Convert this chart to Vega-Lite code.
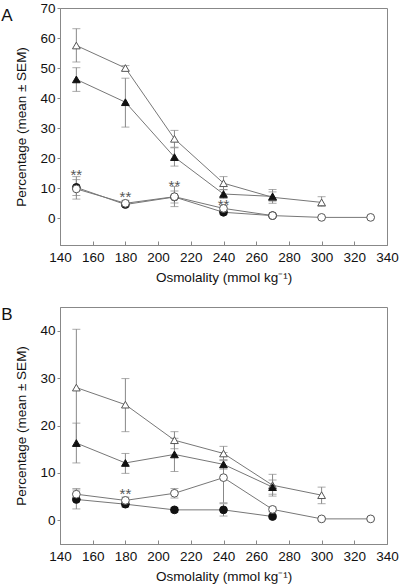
{
  "$schema": "https://vega.github.io/schema/vega-lite/v6.json",
  "padding": {"left": 0, "top": 0, "right": 0, "bottom": 0},
  "spacing": 20,
  "config": {
    "font": "Liberation Sans",
    "view": {"stroke": "#888", "strokeWidth": 1},
    "axis": {
      "grid": false,
      "domainColor": "#888",
      "tickColor": "#888",
      "labelFontSize": 13.5,
      "titleFontSize": 13.5,
      "labelColor": "#111",
      "titleColor": "#111",
      "titleFontWeight": "normal",
      "labelFont": "Liberation Sans",
      "titleFont": "Liberation Sans",
      "labelOverlap": false,
      "labelFlush": false
    },
    "title": {"fontWeight": "normal", "fontSize": 17, "font": "Liberation Sans", "color": "#111"}
  },
  "datasets": {
    "pts": [
      {"p": "A", "s": "oT", "x": 150, "y": 57.5, "lo": 52, "hi": 63.1},
      {"p": "A", "s": "oT", "x": 180, "y": 50, "lo": 49.2, "hi": 50.8},
      {"p": "A", "s": "oT", "x": 210, "y": 26.4, "lo": 23.6, "hi": 29.2},
      {"p": "A", "s": "oT", "x": 240, "y": 11.6, "lo": 9.4, "hi": 13.8},
      {"p": "A", "s": "oT", "x": 270, "y": 6.9, "lo": 4.9, "hi": 9.5},
      {"p": "A", "s": "oT", "x": 300, "y": 5.2, "lo": 3.9, "hi": 7.1},
      {"p": "A", "s": "fT", "x": 150, "y": 46.2, "lo": 42.2, "hi": 50.1},
      {"p": "A", "s": "fT", "x": 180, "y": 38.6, "lo": 30.3, "hi": 46.6},
      {"p": "A", "s": "fT", "x": 210, "y": 20.3, "lo": 17.3, "hi": 23.4},
      {"p": "A", "s": "fT", "x": 240, "y": 8, "lo": 6.5, "hi": 9.5},
      {"p": "A", "s": "fT", "x": 270, "y": 7.2, "lo": 5.7, "hi": 8.7},
      {"p": "A", "s": "fC", "x": 150, "y": 10.2, "lo": 7.5, "hi": 12.8},
      {"p": "A", "s": "fC", "x": 180, "y": 4.5, "lo": 3.8, "hi": 5.2},
      {"p": "A", "s": "fC", "x": 210, "y": 7, "lo": 5, "hi": 9},
      {"p": "A", "s": "fC", "x": 240, "y": 1.9, "lo": 1.2, "hi": 2.6},
      {"p": "A", "s": "fC", "x": 270, "y": 0.8, "lo": 0.5, "hi": 1.1},
      {"p": "A", "s": "oC", "x": 150, "y": 9.7, "lo": 6.3, "hi": 13.8},
      {"p": "A", "s": "oC", "x": 180, "y": 4.9, "lo": 3.9, "hi": 5.9},
      {"p": "A", "s": "oC", "x": 210, "y": 7.1, "lo": 3.8, "hi": 10.5},
      {"p": "A", "s": "oC", "x": 240, "y": 3.2, "lo": 2.2, "hi": 4.2},
      {"p": "A", "s": "oC", "x": 270, "y": 0.8, "lo": 0.4, "hi": 1.2},
      {"p": "A", "s": "oC", "x": 300, "y": 0.2, "lo": 0, "hi": 0.4},
      {"p": "A", "s": "oC", "x": 330, "y": 0.2, "lo": 0, "hi": 0.4},
      {"p": "B", "s": "oT", "x": 150, "y": 28, "lo": 15.7, "hi": 40.3},
      {"p": "B", "s": "oT", "x": 180, "y": 24.4, "lo": 18.7, "hi": 29.9},
      {"p": "B", "s": "oT", "x": 210, "y": 16.9, "lo": 15.1, "hi": 18.7},
      {"p": "B", "s": "oT", "x": 240, "y": 14.1, "lo": 12.6, "hi": 15.6},
      {"p": "B", "s": "oT", "x": 270, "y": 7.4, "lo": 5.1, "hi": 9.7},
      {"p": "B", "s": "oT", "x": 300, "y": 5.3, "lo": 3.5, "hi": 7},
      {"p": "B", "s": "fT", "x": 150, "y": 16.3, "lo": 12.1, "hi": 20.5},
      {"p": "B", "s": "fT", "x": 180, "y": 12.1, "lo": 9.9, "hi": 14.1},
      {"p": "B", "s": "fT", "x": 210, "y": 13.9, "lo": 10.3, "hi": 17.3},
      {"p": "B", "s": "fT", "x": 240, "y": 11.8, "lo": 10.8, "hi": 12.8},
      {"p": "B", "s": "fT", "x": 270, "y": 7, "lo": 5.5, "hi": 8.5},
      {"p": "B", "s": "fC", "x": 150, "y": 4.4, "lo": 2.4, "hi": 6.4},
      {"p": "B", "s": "fC", "x": 180, "y": 3.4, "lo": 2.8, "hi": 4},
      {"p": "B", "s": "fC", "x": 210, "y": 2.2, "lo": 1.7, "hi": 2.7},
      {"p": "B", "s": "fC", "x": 240, "y": 2.2, "lo": 0.9, "hi": 3.5},
      {"p": "B", "s": "fC", "x": 270, "y": 0.8, "lo": 0.4, "hi": 1.2},
      {"p": "B", "s": "oC", "x": 150, "y": 5.5, "lo": 4.3, "hi": 6.7},
      {"p": "B", "s": "oC", "x": 180, "y": 4.2, "lo": 3.5, "hi": 4.9},
      {"p": "B", "s": "oC", "x": 210, "y": 5.7, "lo": 4.7, "hi": 6.7},
      {"p": "B", "s": "oC", "x": 240, "y": 9, "lo": 3.7, "hi": 14.3},
      {"p": "B", "s": "oC", "x": 270, "y": 2.3, "lo": 1.8, "hi": 2.8},
      {"p": "B", "s": "oC", "x": 300, "y": 0.3, "lo": 0, "hi": 0.6},
      {"p": "B", "s": "oC", "x": 330, "y": 0.3, "lo": 0, "hi": 0.6}
    ],
    "stars": [
      {"p": "A", "x": 150, "y": 15.8, "t": "**"},
      {"p": "A", "x": 180, "y": 8.2, "t": "**"},
      {"p": "A", "x": 210, "y": 12.1, "t": "**"},
      {"p": "A", "x": 240, "y": 5.8, "t": "**"},
      {"p": "B", "x": 180, "y": 6.4, "t": "**"}
    ]
  },
  "vconcat": [
    {
      "width": 327,
      "height": 237,
      "title": {"text": "A", "orient": "left", "anchor": "end", "angle": 0, "align": "right", "baseline": "top", "frame": "group", "offset": 0, "dx": 9},
      "layer": [
        {
          "data": {"name": "pts"},
          "transform": [{"filter": "datum.p === 'A'"}],
          "mark": {"type": "rule", "color": "#888", "strokeWidth": 1},
          "encoding": {
            "x": {"field": "x", "type": "quantitative", "scale": {"domain": [140, 340], "nice": false},
              "axis": {"values": [140, 160, 180, 200, 220, 240, 260, 280, 300, 320, 340], "tickCount": 30, "labelOverlap": false, "tickSize": -4, "labelPadding": 9, "title": "Osmolality (mmol kg⁻¹)", "titlePadding": 7}},
            "y": {"field": "lo", "type": "quantitative", "scale": {"domain": [-9, 70], "nice": false, "zero": false},
              "axis": {"values": [0, 10, 20, 30, 40, 50, 60, 70], "tickCount": 30, "labelOverlap": false, "tickSize": 3, "labelPadding": 2, "title": "Percentage (mean ± SEM)", "titlePadding": 11}},
            "y2": {"field": "hi"}
          }
        },
        {
          "data": {"name": "pts"},
          "transform": [{"filter": "datum.p === 'A'"}],
          "mark": {"type": "tick", "color": "#888", "size": 8, "thickness": 1, "orient": "horizontal"},
          "encoding": {"x": {"field": "x", "type": "quantitative"}, "y": {"field": "lo", "type": "quantitative"}}
        },
        {
          "data": {"name": "pts"},
          "transform": [{"filter": "datum.p === 'A'"}],
          "mark": {"type": "tick", "color": "#888", "size": 8, "thickness": 1, "orient": "horizontal"},
          "encoding": {"x": {"field": "x", "type": "quantitative"}, "y": {"field": "hi", "type": "quantitative"}}
        },
        {
          "data": {"name": "pts"},
          "transform": [{"filter": "datum.p === 'A'"}],
          "mark": {"type": "line", "color": "#777", "strokeWidth": 1},
          "encoding": {"x": {"field": "x", "type": "quantitative"}, "y": {"field": "y", "type": "quantitative"}, "detail": {"field": "s"}}
        },
        {
          "data": {"name": "pts"},
          "transform": [{"filter": "datum.p === 'A'"}],
          "mark": {"type": "point", "filled": true, "strokeWidth": 1, "opacity": 1},
          "encoding": {
            "x": {"field": "x", "type": "quantitative"},
            "y": {"field": "y", "type": "quantitative"},
            "shape": {"field": "s", "scale": {"domain": ["oT", "fT", "fC", "oC"], "range": ["triangle-up", "triangle-up", "circle", "circle"]}, "legend": null},
            "size": {"field": "s", "type": "nominal", "scale": {"domain": ["oT", "fT", "fC", "oC"], "range": [60, 60, 80, 80]}, "legend": null},
            "fill": {"field": "s", "scale": {"domain": ["oT", "fT", "fC", "oC"], "range": ["#ffffff", "#111111", "#111111", "#ffffff"]}, "legend": null},
            "stroke": {"field": "s", "scale": {"domain": ["oT", "fT", "fC", "oC"], "range": ["#555555", "#111111", "#111111", "#555555"]}, "legend": null}
          }
        },
        {
          "data": {"name": "stars"},
          "transform": [{"filter": "datum.p === 'A'"}],
          "mark": {"type": "text", "fontSize": 15, "color": "#555", "baseline": "middle", "dy": 4},
          "encoding": {"x": {"field": "x", "type": "quantitative"}, "y": {"field": "y", "type": "quantitative"}, "text": {"field": "t"}}
        }
      ]
    },
    {
      "width": 327,
      "height": 237,
      "title": {"text": "B", "orient": "left", "anchor": "end", "angle": 0, "align": "right", "baseline": "top", "frame": "group", "offset": 0, "dx": 9},
      "layer": [
        {
          "data": {"name": "pts"},
          "transform": [{"filter": "datum.p === 'B'"}],
          "mark": {"type": "rule", "color": "#888", "strokeWidth": 1},
          "encoding": {
            "x": {"field": "x", "type": "quantitative", "scale": {"domain": [140, 340], "nice": false},
              "axis": {"values": [140, 160, 180, 200, 220, 240, 260, 280, 300, 320, 340], "tickCount": 30, "labelOverlap": false, "tickSize": -4, "labelPadding": 9, "title": "Osmolality (mmol kg⁻¹)", "titlePadding": 7}},
            "y": {"field": "lo", "type": "quantitative", "scale": {"domain": [-5, 45], "nice": false, "zero": false},
              "axis": {"values": [0, 10, 20, 30, 40], "tickCount": 30, "labelOverlap": false, "tickSize": 3, "labelPadding": 2, "title": "Percentage (mean ± SEM)", "titlePadding": 11}},
            "y2": {"field": "hi"}
          }
        },
        {
          "data": {"name": "pts"},
          "transform": [{"filter": "datum.p === 'B'"}],
          "mark": {"type": "tick", "color": "#888", "size": 8, "thickness": 1, "orient": "horizontal"},
          "encoding": {"x": {"field": "x", "type": "quantitative"}, "y": {"field": "lo", "type": "quantitative"}}
        },
        {
          "data": {"name": "pts"},
          "transform": [{"filter": "datum.p === 'B'"}],
          "mark": {"type": "tick", "color": "#888", "size": 8, "thickness": 1, "orient": "horizontal"},
          "encoding": {"x": {"field": "x", "type": "quantitative"}, "y": {"field": "hi", "type": "quantitative"}}
        },
        {
          "data": {"name": "pts"},
          "transform": [{"filter": "datum.p === 'B'"}],
          "mark": {"type": "line", "color": "#777", "strokeWidth": 1},
          "encoding": {"x": {"field": "x", "type": "quantitative"}, "y": {"field": "y", "type": "quantitative"}, "detail": {"field": "s"}}
        },
        {
          "data": {"name": "pts"},
          "transform": [{"filter": "datum.p === 'B'"}],
          "mark": {"type": "point", "filled": true, "strokeWidth": 1, "opacity": 1},
          "encoding": {
            "x": {"field": "x", "type": "quantitative"},
            "y": {"field": "y", "type": "quantitative"},
            "shape": {"field": "s", "scale": {"domain": ["oT", "fT", "fC", "oC"], "range": ["triangle-up", "triangle-up", "circle", "circle"]}, "legend": null},
            "size": {"field": "s", "type": "nominal", "scale": {"domain": ["oT", "fT", "fC", "oC"], "range": [60, 60, 80, 80]}, "legend": null},
            "fill": {"field": "s", "scale": {"domain": ["oT", "fT", "fC", "oC"], "range": ["#ffffff", "#111111", "#111111", "#ffffff"]}, "legend": null},
            "stroke": {"field": "s", "scale": {"domain": ["oT", "fT", "fC", "oC"], "range": ["#555555", "#111111", "#111111", "#555555"]}, "legend": null}
          }
        },
        {
          "data": {"name": "stars"},
          "transform": [{"filter": "datum.p === 'B'"}],
          "mark": {"type": "text", "fontSize": 15, "color": "#555", "baseline": "middle", "dy": 4},
          "encoding": {"x": {"field": "x", "type": "quantitative"}, "y": {"field": "y", "type": "quantitative"}, "text": {"field": "t"}}
        }
      ]
    }
  ]
}
